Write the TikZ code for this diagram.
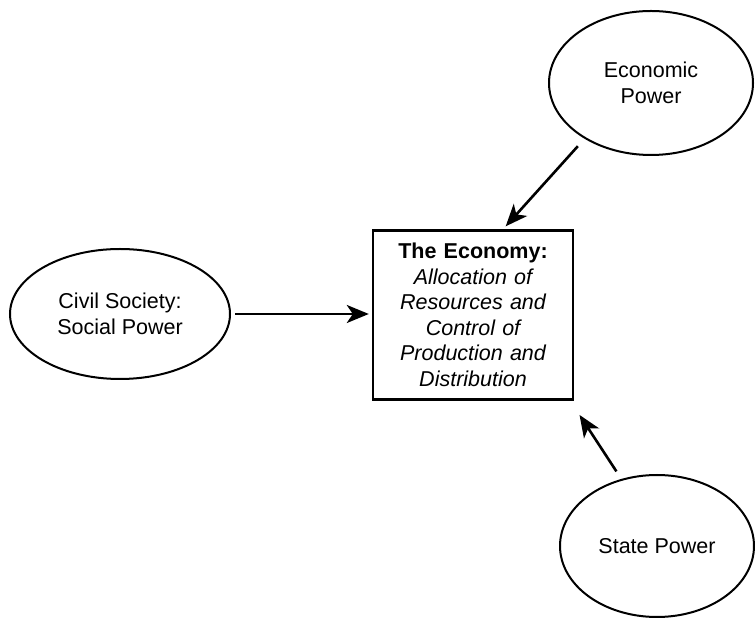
\documentclass[tikz,border=0pt]{standalone}
\usepackage{fontspec}
\setmainfont{Liberation Sans}
\usetikzlibrary{arrows.meta,shapes.geometric}
\tikzstyle{power} = [ellipse, draw, line width=2pt, inner sep=0pt, align=center, font=\fontsize{21.5}{25.5}\selectfont]
\tikzstyle{sector} = [rectangle, draw, line width=2.4pt, minimum width=200pt, minimum height=169pt, text width=190pt, align=center, font=\fontsize{21.5}{25.5}\selectfont]

\begin{document}
\begin{tikzpicture}[->,>={Stealth[length=22pt,width=18pt,inset=6pt]},line width=2.6pt,x=1pt,y=1pt]
  \useasboundingbox (0,0) rectangle (755,618);
  \node[power, minimum width=204pt, minimum height=144pt] (Econ) at (651,535) {Economic\\Power};
  \node[power, minimum width=220pt, minimum height=130pt] (Civil) at (120,304) {Civil Society:\\Social Power};
  \node[power, minimum width=194pt, minimum height=142pt] (State) at (657,72) {State Power};
  \node[sector] (Economy) at (473,303) {\textbf{The Economy:}\\{\itshape Allocation of\\Resources and\\Control of\\Production and\\Distribution}};

  \path (Civil.east) edge[shorten <=4pt, shorten >=3pt] (Civil.east -| Economy.west);
  \path (Econ.220) edge[shorten <=10pt, shorten >=4pt] ([xshift=30pt]Economy.north);
  \path (State.118) edge[shorten <=9pt, shorten >=17pt] ([xshift=-4pt]Economy.south east);
\end{tikzpicture}
\end{document}
